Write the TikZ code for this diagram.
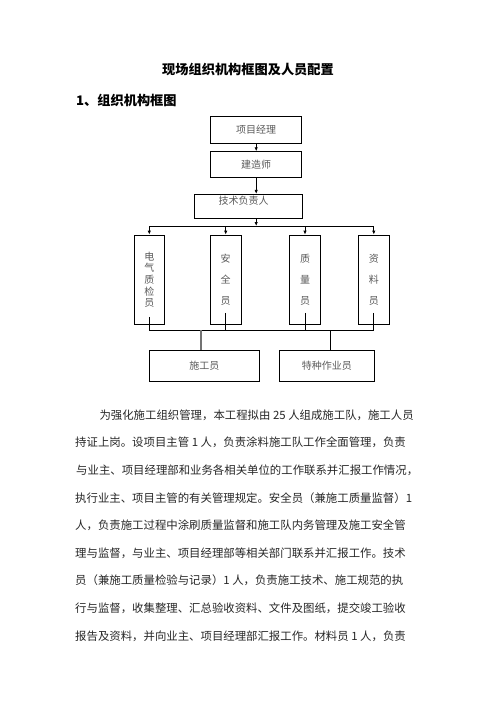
\documentclass[tikz,border=0pt]{standalone}
\usepackage{fontspec}
\setmainfont{Noto Sans CJK SC}
\usepackage{tikz}
\usetikzlibrary{positioning}
\usetikzlibrary{arrows.meta}
\colorlet{boxtext}{black!65}
\colorlet{bodytext}{black!85}
\tikzset{>={Latex[length=4pt,width=3.4pt]}}
\tikzset{
  box/.style={draw, line width=0.8pt, inner sep=0pt, text=boxtext,
    font=\fontsize{10}{12}\selectfont},
  link/.style={line width=0.8pt},
  bodyline/.style={anchor=west, inner sep=0pt, text=bodytext,
    font=\fontsize{11.4}{13}\selectfont},
}

\begin{document}
\begin{tikzpicture}[x=1pt,y=-1pt]
\useasboundingbox (0,0) rectangle (496,702);

% ================= Titles =================
\node[font=\bfseries\fontsize{13.2}{14}\selectfont] (title) at (248,70) {现场组织机构框图及人员配置};
\node[anchor=west, inner sep=0pt, font=\bfseries\fontsize{13.2}{14}\selectfont] (head) at (76,100.7) {1、组织机构框图};

% ================= Upper chain =================
\node[box, minimum width=91pt, minimum height=27pt] (pm) at (256.2,129.7) {项目经理};
\node[box, minimum width=91pt, minimum height=25.6pt] (jzs) at (256.2,164.5) {建造师};
\node[box, minimum width=108.3pt, minimum height=24pt] (jsfz) at (248.2,206.3) {};
\node[text=boxtext, inner sep=0pt, font=\fontsize{10}{12}\selectfont] (jsfzt) at (243.5,201) {技术负责人};

\draw[->, link] (pm.south -| jzs.north) -- (jzs.north);
\draw[->, link] (jzs.south) -- (jzs.south |- jsfz.north);

% ================= Four posts =================
\coordinate (topL) at (149.3,226);
\coordinate (topR) at (374.3,226);
\coordinate (botL) at (149.3,330);
\coordinate (botR) at (374.3,330);

\draw[->, link] (jzs.south |- jsfz.south) -- (jzs.south |- topL);
\draw[link] (topL) -- (topR);
\draw[link] (botL) -- (botR);

\foreach \name/\x/\lbl/\gap/\up in {
  dq/149.3/{电\\气\\质\\检\\员}/11.7/8,
  aq/225.7/{安\\全\\员}/21/12,
  zl/305/{质\\量\\员}/21/12,
  zy/373.8/{资\\料\\员}/21/12
}{
  \node[box, minimum width=30.5pt, minimum height=89.3pt, align=center,
    font=\fontsize{10}{\gap}\selectfont] (\name) at (\x,279.7) {\lbl};
  \draw[->, link] (\name.north |- topL) -- (\name.north);
  \draw[link] ([yshift=\up pt]\name.south) -- (\name.south |- botL);
}

% ================= Lower posts =================
\node[box, minimum width=110pt, minimum height=31.3pt] (sg) at (204.3,365.7) {施工员};
\node[box, minimum width=95pt, minimum height=31.3pt] (tz) at (326.8,365.7) {特种作业员};

\coordinate (sgj) at (201,330);
\coordinate (tzj) at (330.3,330);
\draw[line width=1.3pt, black!55] (sgj) -- (sgj |- sg.north);
\draw[link] (tzj) -- (tzj |- tz.north);

% ================= Body text =================
\foreach \i/\x/\t in {
  0/99.3/{为强化施工组织管理，本工程拟由 25 人组成施工队，施工人员},
  1/75/{持证上岗。设项目主管 1 人，负责涂料施工队工作全面管理，负责},
  2/76/{与业主、项目经理部和业务各相关单位的工作联系并汇报工作情况，},
  3/75/{执行业主、项目主管的有关管理规定。安全员（兼施工质量监督）1},
  4/75/{人，负责施工过程中涂刷质量监督和施工队内务管理及施工安全管},
  5/75/{理与监督，与业主、项目经理部等相关部门联系并汇报工作。技术},
  6/75/{员（兼施工质量检验与记录）1 人，负责施工技术、施工规范的执},
  7/75/{行与监督，收集整理、汇总验收资料、文件及图纸，提交竣工验收},
  8/75/{报告及资料，并向业主、项目经理部汇报工作。材料员 1 人，负责}
}{
  \node[bodyline] (p\i) at (\x,{415+27.6*\i}) {\t};
}
\end{tikzpicture}
\end{document}
